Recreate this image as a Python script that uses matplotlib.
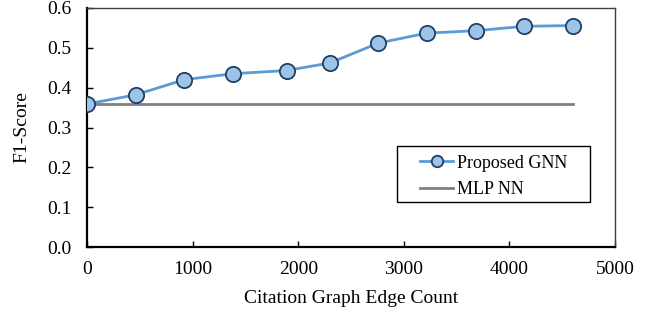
import matplotlib.pyplot as plt
from matplotlib.patches import Rectangle

plt.rcParams['font.family'] = ['Liberation Serif', 'DejaVu Serif']
plt.rcParams['font.size'] = 14
plt.rcParams['xtick.direction'] = 'in'
plt.rcParams['ytick.direction'] = 'in'

edge_count = [0, 460, 920, 1380, 1890, 2300, 2760, 3220, 3680, 4140, 4600]
gnn_f1 = [0.359, 0.382, 0.420, 0.435, 0.443, 0.462, 0.512, 0.537, 0.543, 0.554, 0.556]
mlp_f1 = [0.359] * len(edge_count)

fig = plt.figure(figsize=(6.47, 3.11), dpi=100)
ax = fig.add_axes([87 / 647, 1 - 247 / 311, 528 / 647, 239 / 311])

ax.plot(edge_count, gnn_f1, color='#5B9BD5', lw=2, marker='o', ms=11,
        mfc='#9DC3E6', mec='#1F3F66', mew=1.3, label='Proposed GNN', zorder=3)
ax.plot(edge_count, mlp_f1, color='#808080', lw=2, label='MLP NN', zorder=2)

ax.set_xlim(0, 5000)
ax.set_ylim(0, 0.6)
ax.set_xticks(range(0, 5001, 1000))
ax.set_yticks([0.0, 0.1, 0.2, 0.3, 0.4, 0.5, 0.6])
ax.set_yticklabels([f"{v:.1f}" for v in ax.get_yticks()])
ax.tick_params(length=4, width=1)
ax.tick_params(axis='x', pad=10)
ax.tick_params(axis='y', pad=11)

for s in ('left', 'bottom'):
    ax.spines[s].set_linewidth(1.6)
    ax.spines[s].set_color('black')
for s in ('top', 'right'):
    ax.spines[s].set_linewidth(1.0)
    ax.spines[s].set_color('#404040')

ax.set_xlabel('Citation Graph Edge Count', labelpad=9)
ax.set_ylabel('F1-Score', labelpad=12)

# legend box drawn separately so the padding matches the reference
ax.add_patch(Rectangle((0.587, 0.19), 0.366, 0.234, transform=ax.transAxes,
                       fill=True, fc='white', ec='black', lw=1.0, zorder=4))
leg = ax.legend(loc='upper left', bbox_to_anchor=(0.631, 0.386), frameon=False,
                fontsize=13, handlelength=1.83, handletextpad=0.2,
                borderpad=0, borderaxespad=0, labelspacing=0.52, markerscale=0.75)
leg.set_zorder(5)

fig.savefig('out.png', dpi=100)
